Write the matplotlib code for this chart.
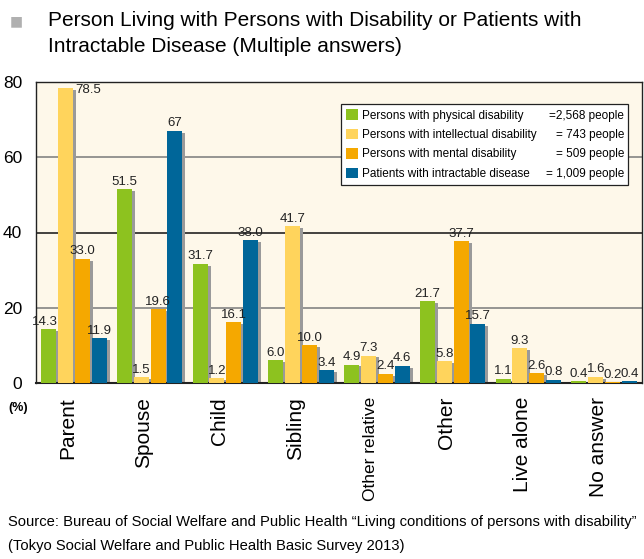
import numpy as np
import matplotlib
matplotlib.use("Agg")
import matplotlib.pyplot as plt

CREAM = "#fef8ea"
GREEN = "#8dc21f"
LIGHT = "#ffd45c"
ORANGE = "#f5a800"
BLUE = "#006699"
SHADOW = "#9a9a9a"

categories = ["Parent", "Spouse", "Child", "Sibling", "Other relative",
              "Other", "Live alone", "No answer"]
physical = [14.3, 51.5, 31.7, 6.0, 4.9, 21.7, 1.1, 0.4]
intellectual = [78.5, 1.5, 1.2, 41.7, 7.3, 5.8, 9.3, 1.6]
mental = [33.0, 19.6, 16.1, 10.0, 2.4, 37.7, 2.6, 0.2]
intractable = [11.9, 67, 38.0, 3.4, 4.6, 15.7, 0.8, 0.4]
intractable_text = ["11.9", "67", "38.0", "3.4", "4.6", "15.7", "0.8", "0.4"]

series_names = ["Persons with physical disability",
                "Persons with intellectual disability",
                "Persons with mental disability",
                "Patients with intractable disease"]
series_counts = ["=2,568 people", "= 743 people", "= 509 people", "= 1,009 people"]

plt.rcParams["font.family"] = ["Liberation Sans", "DejaVu Sans"]

fig = plt.figure(figsize=(6.44, 5.59), dpi=100, facecolor="white")
ax = fig.add_axes([36/644, 1-383/559, 606/644, 301/559])
ax.set_facecolor(CREAM)

x = np.arange(len(categories))
step = 0.222
width = 0.198
series = [physical, intellectual, mental, intractable]
colors = [GREEN, LIGHT, ORANGE, BLUE]

for k, (vals, col) in enumerate(zip(series, colors)):
    pos = x + (k - 1.5) * step
    vals = np.array(vals)
    # shadow
    ax.bar(pos + 0.04, np.maximum(vals - 0.5, 0), width, color=SHADOW, zorder=2)
    ax.bar(pos, vals, width, color=col, zorder=3, label=series_names[k])
    for i, (p, v) in enumerate(zip(pos, vals)):
        txt = intractable_text[i] if k == 3 else f"{v:.1f}"
        if k == 1 and i == 0:
            # top bar: label sits to the right of the bar top
            ax.text(p + 0.13, v - 0.6, txt, ha="left", va="center",
                    fontsize=9.5, color="#222222", zorder=5)
            continue
        dx = -0.05 if (k == 0 and i == 0) else 0
        ax.text(p + dx, v + 0.4, txt, ha="center", va="bottom", fontsize=9.5,
                color="#222222", zorder=5)

for yv, c in [(20, "#7a7a7a"), (40, "#111111"), (60, "#7a7a7a")]:
    ax.axhline(yv, color=c, lw=1.1, zorder=1)

ax.set_xlim(-0.5, len(categories) - 0.5)
ax.set_ylim(0, 80)
ax.set_yticks([0, 20, 40, 60, 80])
ax.set_yticklabels(["0", "20", "40", "60", "80"], fontsize=12.5)
ax.set_xticks(x - 0.08)
ax.set_xticklabels(categories, rotation=90, fontsize=15)
ax.get_xticklabels()[4].set_fontsize(12.5)
ax.tick_params(length=0)
ax.tick_params(axis="x", pad=10)
ax.tick_params(axis="y", pad=10)
for s in ax.spines.values():
    s.set_color("#222222")
    s.set_linewidth(1.0)
ax.spines["bottom"].set_linewidth(1.5)

fig.text(18/644, 1-408/559, "(%)", fontsize=9, fontweight="bold",
         ha="center", va="center")

leg = ax.legend(loc="upper left",
                bbox_to_anchor=(341/644, 1-193/559, 287/644, 89/559),
                bbox_transform=fig.transFigure, mode="expand", borderaxespad=0,
                fontsize=8.5, frameon=True, fancybox=False, framealpha=1,
                edgecolor="#222222", facecolor="white",
                handlelength=1.0, handleheight=1.0, handletextpad=0.35,
                labelspacing=0.6, borderpad=0.45)
leg.get_frame().set_linewidth(0.9)
leg.set_zorder(10)

fig.canvas.draw()
for t, cnt in zip(leg.get_texts(), series_counts):
    bb = t.get_window_extent()
    yc = (bb.y0 + bb.y1) / 2 / fig.bbox.height
    fig.text(624/644, yc, cnt, ha="right", va="center", fontsize=8.5,
             zorder=11)

fig.text(10/644, 1-21/559, "■", fontsize=10, color="#b0b0b0",
         ha="left", va="center", family=["DejaVu Sans"])
fig.text(48/644, 1-21/559,
         "Person Living with Persons with Disability or Patients with",
         ha="left", va="center", fontsize=15)
fig.text(48/644, 1-47/559,
         "Intractable Disease (Multiple answers)",
         ha="left", va="center", fontsize=15)

fig.text(8/644, 1-522/559,
         "Source: Bureau of Social Welfare and Public Health \u201cLiving conditions of persons with disability\u201d",
         ha="left", va="center", fontsize=10.6)
fig.text(8/644, 1-546/559,
         "(Tokyo Social Welfare and Public Health Basic Survey 2013)",
         ha="left", va="center", fontsize=10.6)

fig.savefig("out.png", dpi=100, facecolor="white")
